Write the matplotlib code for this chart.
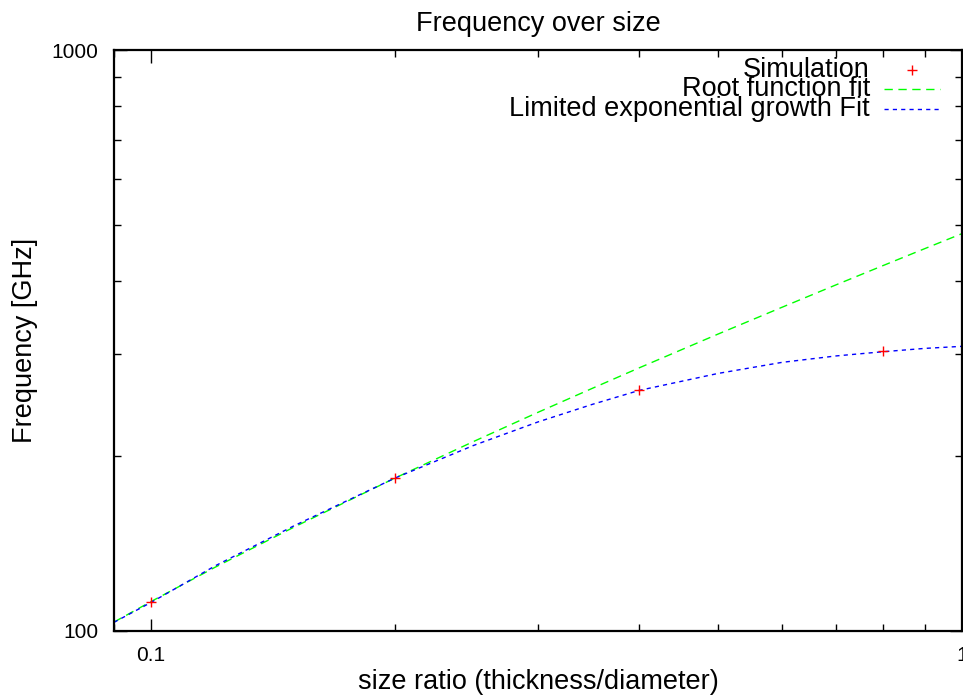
import matplotlib
matplotlib.use("Agg")
import matplotlib.pyplot as plt
from matplotlib.ticker import LogLocator, NullFormatter, FixedLocator, FixedFormatter

plt.rcParams['font.family'] = ['Liberation Sans', 'DejaVu Sans']

# simulated points
sim_x = [0.1, 0.2, 0.4, 0.8]
sim_y = [112.2, 183.4, 259.9, 303.3]

# curves
fit_x = [0.09, 0.1, 0.12, 0.15, 0.2, 0.25, 0.3, 0.35, 0.4, 0.5, 0.6, 0.7, 0.8, 0.9, 1.0]
root_y = [103.6, 112.4, 128.8, 150.9, 183.4, 212.0, 237.9, 261.6, 283.8, 324.3, 360.8,
          394.5, 425.8, 455.2, 483.0]
exp_y = [103.5, 112.0, 129.5, 151.7, 183.4, 208.7, 229.0, 245.5, 259.5, 277.5, 290.0,
         297.5, 302.5, 306.5, 309.0]

labels = ["Simulation", "Root function fit", "Limited exponential growth Fit"]

fig = plt.figure(figsize=(9.63, 6.96), dpi=100)
ax = fig.add_axes([114 / 963, 1 - 631 / 696, 848 / 963, 581 / 696])

ax.plot(fit_x, root_y, color="#00ff00", linestyle=(0, (6, 4)), linewidth=1.0)
ax.plot(fit_x, exp_y, color="#0000ff", linestyle=(0, (3, 3)), linewidth=1.0)
ax.plot(sim_x, sim_y, linestyle="none", marker="+", color="#ff0000",
        markersize=7, markeredgewidth=1.0)

ax.set_xscale("log")
ax.set_yscale("log")
ax.set_xlim(0.09, 1.0)
ax.set_ylim(100, 1000)

ax.xaxis.set_major_locator(FixedLocator([0.1, 1.0]))
ax.xaxis.set_major_formatter(FixedFormatter(["0.1", "1"]))
ax.xaxis.set_minor_locator(LogLocator(base=10, subs=range(2, 10)))
ax.xaxis.set_minor_formatter(NullFormatter())
ax.yaxis.set_major_locator(FixedLocator([100, 1000]))
ax.yaxis.set_major_formatter(FixedFormatter(["100", "1000"]))
ax.yaxis.set_minor_locator(LogLocator(base=10, subs=range(2, 10)))
ax.yaxis.set_minor_formatter(NullFormatter())

ax.tick_params(which="both", direction="in", top=True, right=True, labelsize=15)
ax.tick_params(which="major", length=9, width=1.0, pad=11)
ax.tick_params(which="minor", length=5, width=1.0)
for s in ax.spines.values():
    s.set_linewidth(1.6)

ax.set_title("Frequency over size", fontsize=19.5, pad=14)
ax.set_xlabel("size ratio (thickness/diameter)", fontsize=19.5, labelpad=3)
ax.set_ylabel("Frequency [GHz]", fontsize=19.5, labelpad=10)

# gnuplot style key: right-aligned text, sample to the right
key_y = [0.9656, 0.9329, 0.8985]
tx = 0.8915
for lab, yy in zip(labels, key_y):
    ax.text(tx, yy, lab, transform=ax.transAxes, ha="right", va="center",
            fontsize=19.5)
ax.plot([0.941], [key_y[0]], transform=ax.transAxes, linestyle="none", marker="+",
        color="#ff0000", markersize=7, markeredgewidth=1.0)
ax.plot([0.908, 0.974], [key_y[1]] * 2, transform=ax.transAxes,
        color="#00ff00", linestyle=(0, (6, 4)), linewidth=1.0)
ax.plot([0.908, 0.974], [key_y[2]] * 2, transform=ax.transAxes,
        color="#0000ff", linestyle=(0, (3, 3)), linewidth=1.0)

fig.savefig("out.png", dpi=100)
